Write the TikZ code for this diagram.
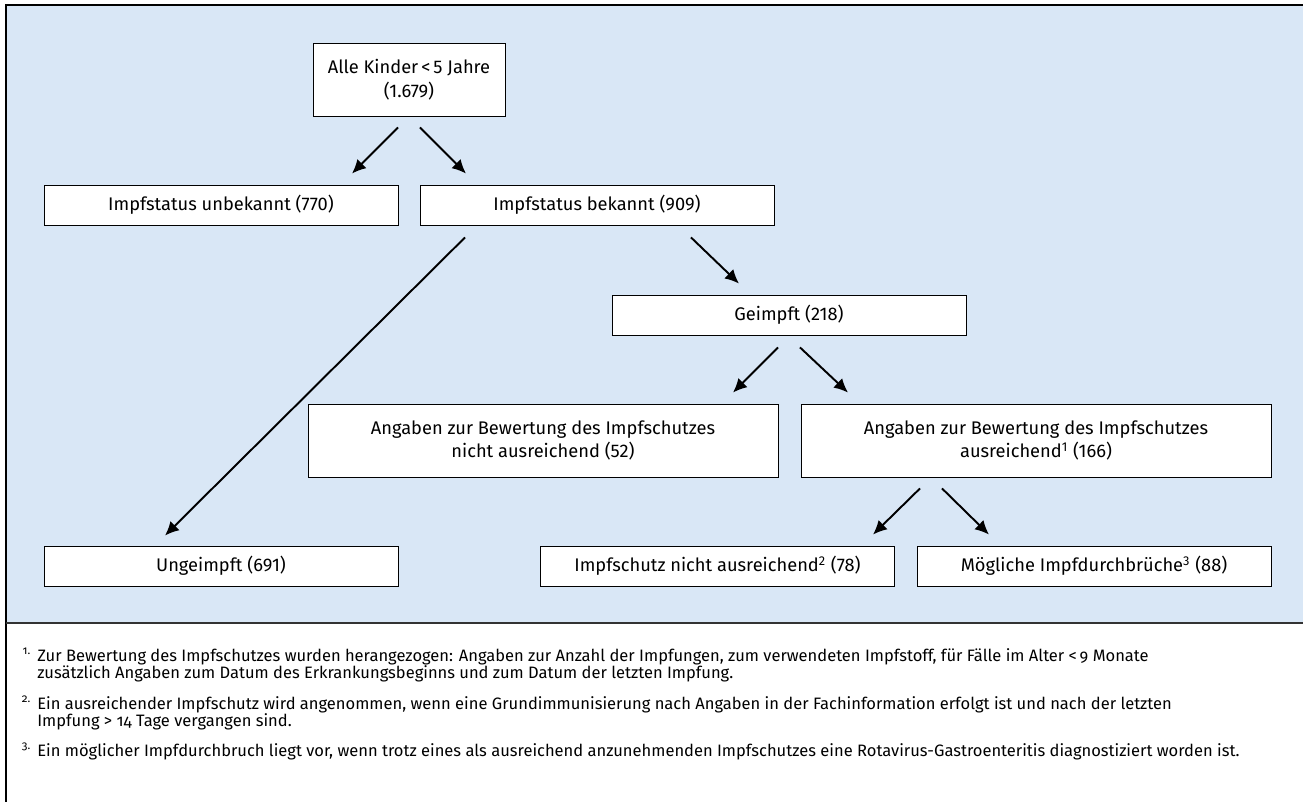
\documentclass[tikz,border=0pt]{standalone}
\usepackage{fontspec}
\setmainfont{Fira Sans}
\newfontfamily\notefont{Fira Sans}[Numbers=OldStyle]
\usepackage{tikz}
\usetikzlibrary{positioning, arrows.meta}
\definecolor{panelblue}{RGB}{217,231,246}

\begin{document}
\begin{tikzpicture}[
        % one unit = one pixel of the 1303 x 802 layout, y pointing down
        x=0.02cm, y=-0.02cm,
        every node/.style={font=\fontsize{10.4}{13.6}\selectfont},
        box/.style={draw, fill=white, line width=0.5pt, align=center,
                    minimum width=7.08cm, minimum height=0.8cm, inner sep=0pt},
        wide/.style={box, minimum width=9.4cm, minimum height=1.46cm},
        arrow/.style={-{Latex[length=2.8mm, width=2.6mm]}, line width=1.1pt},
        fnote/.style={anchor=north west, align=left, inner sep=0pt,
                      font=\notefont\fontsize{9.4}{9.8}\selectfont}
    ]

    \useasboundingbox (0,0) rectangle (1303,802);

    % --- Panel ---
    \fill[panelblue] (6,5) rectangle (1303,623);
    \draw[line width=0.6pt] (1303,5) -- (6,5) -- (6,802);
    \draw[line width=0.8pt, black!80] (6,623) -- (1303,623);

    % --- Boxes ---
    \node[box, minimum width=3.84cm, minimum height=1.46cm] (alle) at (409,79.5) {Alle Kinder\,<\,5 Jahre\\(1.679)};
    \node[box] (unbek) at (221,205) {Impfstatus unbekannt (770)};
    \node[box] (bek) at (597,205) {Impfstatus bekannt (909)};
    \node[box] (geimpft) at (789,315) {Geimpft (218)};
    \node[wide] (nausr) at (543,440.5) {Angaben zur Bewertung des Impfschutzes\\nicht ausreichend (52)};
    \node[wide] (ausr) at (1036,440.5) {Angaben zur Bewertung des Impfschutzes\\ausreichend\textsuperscript{1} (166)};
    \node[box] (ungeimpft) at (221,566) {Ungeimpft (691)};
    \node[box] (ischutz) at (717.5,566) {Impfschutz nicht ausreichend\textsuperscript{2} (78)};
    \node[box] (durchbr) at (1094,566) {Mögliche Impfdurchbrüche\textsuperscript{3} (88)};

    % --- Arrows ---
    \draw[arrow] ([shift={(-11,11)}]alle.south) -- ([shift={(131,-11)}]unbek.north);
    \draw[arrow] ([shift={(11,11)}]alle.south) -- ([shift={(-131,-11)}]bek.north);
    \draw[arrow] ([shift={(94,12)}]bek.south) -- ([shift={(-50,-11)}]geimpft.north);
    \draw[arrow] ([shift={(-132,12)}]bek.south) -- ([shift={(-56,-10)}]ungeimpft.north);
    \draw[arrow] ([shift={(-11,12)}]geimpft.south) -- ([shift={(190,-11)}]nausr.north);
    \draw[arrow] ([shift={(11,12)}]geimpft.south) -- ([shift={(-188,-11)}]ausr.north);
    \draw[arrow] ([shift={(-116,11)}]ausr.south) -- ([shift={(155.5,-11)}]ischutz.north);
    \draw[arrow] ([shift={(-94,11)}]ausr.south) -- ([shift={(-105,-11)}]durchbr.north);

    % --- Footnotes ---
    \node[fnote] (fn1) at (37,648) {\llap{\textsuperscript{1.}\hspace{3.5pt}}Zur Bewertung des Impfschutzes wurden herangezogen: Angaben zur Anzahl der Impfungen, zum verwendeten Impfstoff, für Fälle im Alter <\,9 Monate\\zusätzlich Angaben zum Datum des Erkrankungsbeginns und zum Datum der letzten Impfung.};
    \node[fnote] (fn2) at (37,696) {\llap{\textsuperscript{2.}\hspace{3.5pt}}Ein ausreichender Impfschutz wird angenommen, wenn eine Grundimmunisierung nach Angaben in der Fachinformation erfolgt ist und nach der letzten\\Impfung > 14 Tage vergangen sind.};
    \node[fnote] (fn3) at (37,743) {\llap{\textsuperscript{3.}\hspace{3.5pt}}Ein möglicher Impfdurchbruch liegt vor, wenn trotz eines als ausreichend anzunehmenden Impfschutzes eine Rotavirus-Gastroenteritis diagnostiziert worden ist.};

\end{tikzpicture}
\end{document}
